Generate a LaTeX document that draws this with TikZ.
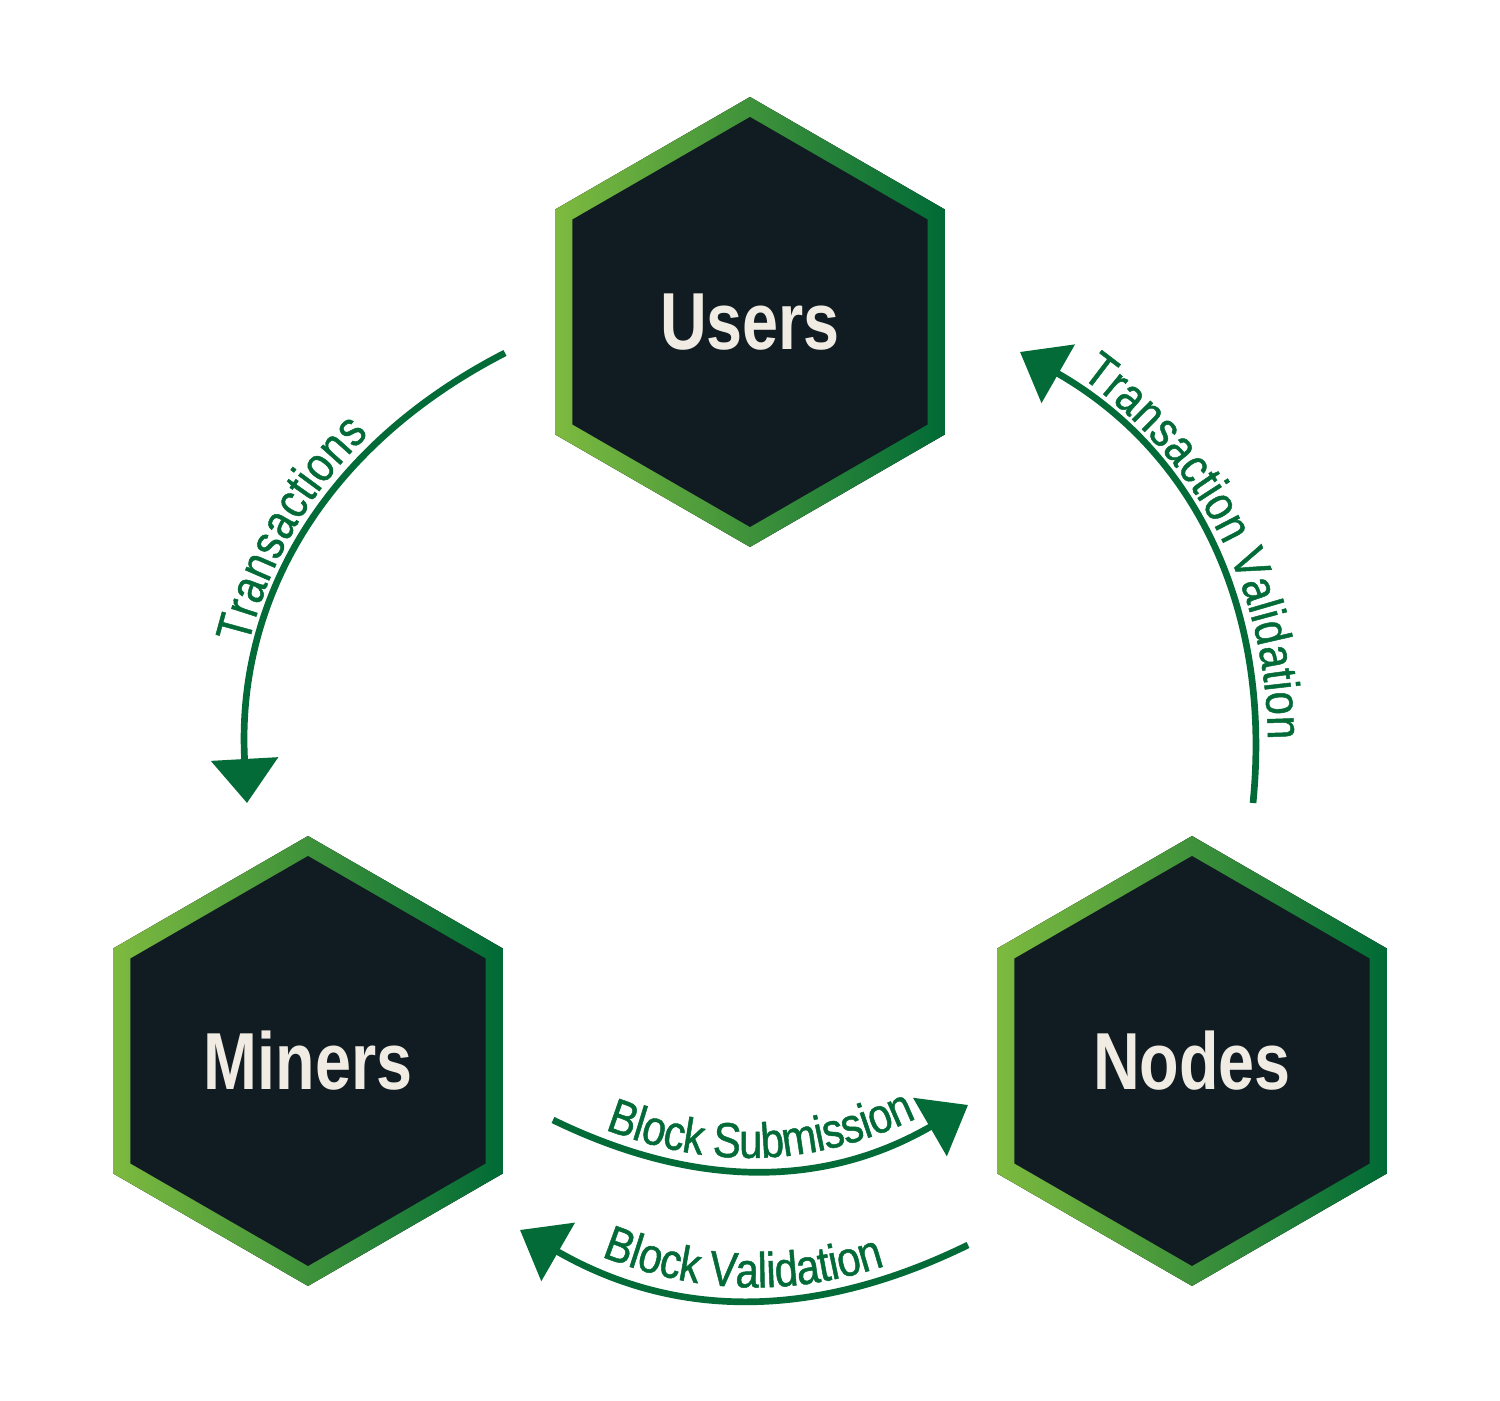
\documentclass[tikz,border=0pt]{standalone}
\usepackage{fontspec}
\newfontfamily\hexfont{Liberation Sans}[FakeStretch=0.8]
\newfontfamily\arcfont{Liberation Sans}[FakeStretch=0.85,FakeBold=1]
\usetikzlibrary{arrows.meta,decorations.text,calc}
\definecolor{hexdark}{HTML}{111C22}
\definecolor{hexlight}{HTML}{7DBA3F}
\definecolor{hexgreen}{HTML}{006A36}
\definecolor{arrowgreen}{HTML}{036B38}
\definecolor{hextext}{HTML}{F0ECE4}
\newcommand{\hexagon}[3]{%
  \fill[left color=hexlight,right color=hexgreen]
    ($(#1)+(90:225)$) -- ($(#1)+(150:225)$) -- ($(#1)+(210:225)$) --
    ($(#1)+(270:225)$) -- ($(#1)+(330:225)$) -- ($(#1)+(30:225)$) -- cycle;
  \fill[hexdark]
    ($(#1)+(90:205)$) -- ($(#1)+(150:205)$) -- ($(#1)+(210:205)$) --
    ($(#1)+(270:205)$) -- ($(#1)+(330:205)$) -- ($(#1)+(30:205)$) -- cycle;
  \node[hexlabel] (#2) at (#1) {#3};}
\newcommand{\labelfont}{\arcfont\fontsize{14}{16}\selectfont}
\tikzset{
  hexlabel/.style={text=hextext,font=\hexfont\bfseries\fontsize{23}{26}\selectfont},
  flow/.style={draw=arrowgreen,line width=1.9pt,
    -{Triangle[width=0.66cm,length=0.44cm]}},
  flowtext/.style={decorate,decoration={text along path,text align=center,
    raise=0.12cm,text={|\color{arrowgreen}\labelfont|#1}}}
}
\begin{document}
\begin{tikzpicture}[x=0.01cm,y=0.01cm]
\useasboundingbox (0,0) rectangle (1500,1401);
% hexagons
\coordinate (cu) at (750,1079);
\coordinate (cm) at (308,340);
\coordinate (cn) at (1192,340);
\hexagon{cu}{users}{Users}
\hexagon{cm}{miners}{Miners}
\hexagon{cn}{nodes}{Nodes}
% arrow ends
\coordinate (tr1) at (505,1048);
\coordinate (tr2) at (247,598);
\coordinate (tv1) at (1253,598);
\coordinate (tv2) at (1020,1049);
\coordinate (bs1) at (553,281);
\coordinate (bs2) at (968,296);
\coordinate (bv1) at (968,156);
\coordinate (bv2) at (520,171);
% arrows
\draw[flow] (tr1) to[bend right=33] (tr2);
\draw[flow] (tv1) to[bend right=33] (tv2);
\draw[flow] (bs1) to[bend right=28] (bs2);
\draw[flow] (bv1) to[bend left=28] (bv2);
% labels
\path[flowtext=Transactions] (tr2) to[bend left=33] (tr1);
\path[flowtext=Transaction Validation] (tv2) to[bend left=33] (tv1);
\path[flowtext=Block Submission] (bs1) to[bend right=28] (bs2);
\path[flowtext=Block Validation] (bv2) to[bend right=28] (bv1);
\end{tikzpicture}
\end{document}
